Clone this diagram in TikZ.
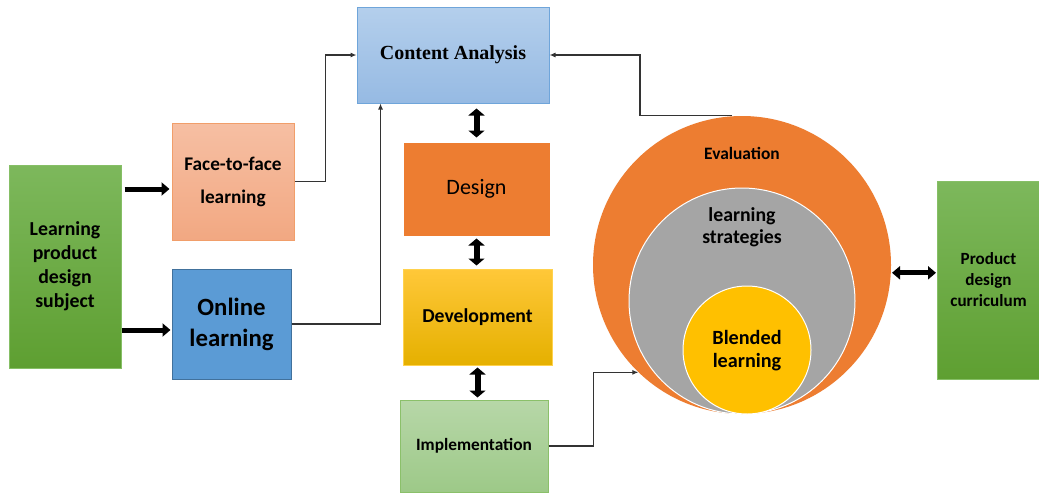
\documentclass[tikz,border=0pt]{standalone}
\usepackage{fontspec}
\setmainfont{Carlito}
\newfontfamily\cafont{Liberation Serif}
\usetikzlibrary{arrows.meta,calc}
\newcommand\myfs[2]{\fontsize{#1}{#2}\selectfont}
\definecolor{grnA}{HTML}{7DB85C}
\definecolor{grnB}{HTML}{5E9F31}
\definecolor{grnD}{HTML}{86BF66}
\definecolor{salA}{HTML}{F6BFA3}
\definecolor{salB}{HTML}{F2A882}
\definecolor{salD}{HTML}{F19E6A}
\definecolor{onl}{HTML}{5B9BD5}
\definecolor{onlD}{HTML}{41719C}
\definecolor{caA}{HTML}{B4CFEC}
\definecolor{caB}{HTML}{96BAE3}
\definecolor{caD}{HTML}{6FA5DA}
\definecolor{orng}{HTML}{ED7D31}
\definecolor{devA}{HTML}{FFC839}
\definecolor{devB}{HTML}{E5B000}
\definecolor{devD}{HTML}{FFD24D}
\definecolor{impA}{HTML}{B7D7A8}
\definecolor{impB}{HTML}{9DC988}
\definecolor{impD}{HTML}{8BC06A}
\definecolor{gry}{HTML}{A5A5A5}
\definecolor{ylw}{HTML}{FFC000}
\begin{document}
\begin{tikzpicture}[x=1pt,y=-1pt,
  box/.style={rectangle, inner sep=0pt, align=center, line width=1pt, text=black},
  greenbox/.style={box, draw=grnD, top color=grnA, bottom color=grnB},
  disc/.style={circle, inner sep=0pt},
  thickarr/.style={line width=5pt, -{Triangle[length=8pt,width=13pt]}, black},
  dblarr/.style={line width=6pt, {Triangle[length=7pt,width=16pt]}-{Triangle[length=7pt,width=16pt]}, black},
  hdblarr/.style={line width=5pt, {Triangle[length=8pt,width=13pt]}-{Triangle[length=8pt,width=13pt]}, black},
  conn/.style={draw=black!80, line width=1.1pt, -{Latex[length=6pt,width=5pt]}}]
\useasboundingbox (0,0) rectangle (1039,493);
\fill[white] (0,0) rectangle (1039,493);

% left column
\node[greenbox, minimum width=112pt, minimum height=203pt, font=\bfseries\myfs{19.8}{24}] (lpds) at (65,266.5) {Learning\\product\\design\\subject};
\node[box, draw=salD, top color=salA, bottom color=salB, minimum width=122pt, minimum height=117pt, font=\bfseries\myfs{19.3}{33}] (f2f) at (233,181.5) {Face-to-face\\learning};
\node[box, draw=onlD, fill=onl, minimum width=119pt, minimum height=110pt, font=\bfseries\myfs{24.8}{31}] (online) at (231.5,324) {Online\\learning};

% middle column
\node[box, draw=caD, top color=caA, bottom color=caB, minimum width=192pt, minimum height=96pt, font=\cafont\bfseries\myfs{20}{24}] (ca) at (453,55) {Content Analysis};
\node[box, draw=white, fill=orng, minimum width=147pt, minimum height=94pt, font=\myfs{22}{26}] (design) at (476.5,189) {Design};
\node[box, draw=devD, top color=devA, bottom color=devB, minimum width=149pt, minimum height=96pt, font=\bfseries\myfs{19.7}{23}] (dev) at (477.5,317) {Development};
\node[box, draw=impD, top color=impA, bottom color=impB, minimum width=148pt, minimum height=92pt, font=\bfseries\myfs{17.3}{21}] (impl) at (474,446) {Implementation};

% circles
\node[disc, fill=orng, minimum size=298pt] (orange) at (742,265) {};
\node[disc, fill=gry, draw=white, line width=1pt, minimum size=226pt] (gray) at (742,301) {};
\node[disc, fill=ylw, draw=white, line width=1pt, minimum size=128pt] (yellow) at (747,350) {};
\node[font=\bfseries\myfs{17.4}{21}] (evl) at (742,153) {Evaluation};
\node[align=center, font=\bfseries\myfs{19.8}{22.5}] (ls) at (742,227) {learning\\strategies};
\node[align=center, font=\bfseries\myfs{20.2}{23}] (bl) at (747,351) {Blended\\learning};

% right box
\node[greenbox, minimum width=102pt, minimum height=198pt, font=\bfseries\myfs{17.1}{21}] (pdc) at (988.5,280) {Product\\design\\curriculum};

% thick arrows
\draw[thickarr, shorten <=3pt, shorten >=2pt] ([yshift=-7.5pt]f2f.west -| lpds.east) -- ([yshift=-7.5pt]f2f.west);
\draw[thickarr, shorten <=0pt, shorten >=1pt] ([yshift=-6pt]online.west -| lpds.east) -- ([yshift=-6pt]online.west);
\draw[dblarr, shorten <=5pt, shorten >=4pt] (design.north |- ca.south) -- (design.north);
\draw[dblarr, shorten <=2pt, shorten >=3pt] (design.south) -- (design.south |- dev.north);
\draw[dblarr, shorten <=2pt, shorten >=2pt] (dev.south) -- (dev.south |- impl.north);
\draw[hdblarr, shorten <=1pt, shorten >=1pt] (orange.-3) -- (orange.-3 -| pdc.west);

% connectors
\draw[conn] (f2f.east) -- ++(31,0) |- (ca.west);
\draw[conn] (online.east) -| ([xshift=24pt]ca.south west);
\draw[conn] ([xshift=-10pt]orange.north) -- ++(-92,0) |- (ca.east);
\draw[conn] (impl.east) -- ++(45,0) |- (orange.226);
\end{tikzpicture}
\end{document}
